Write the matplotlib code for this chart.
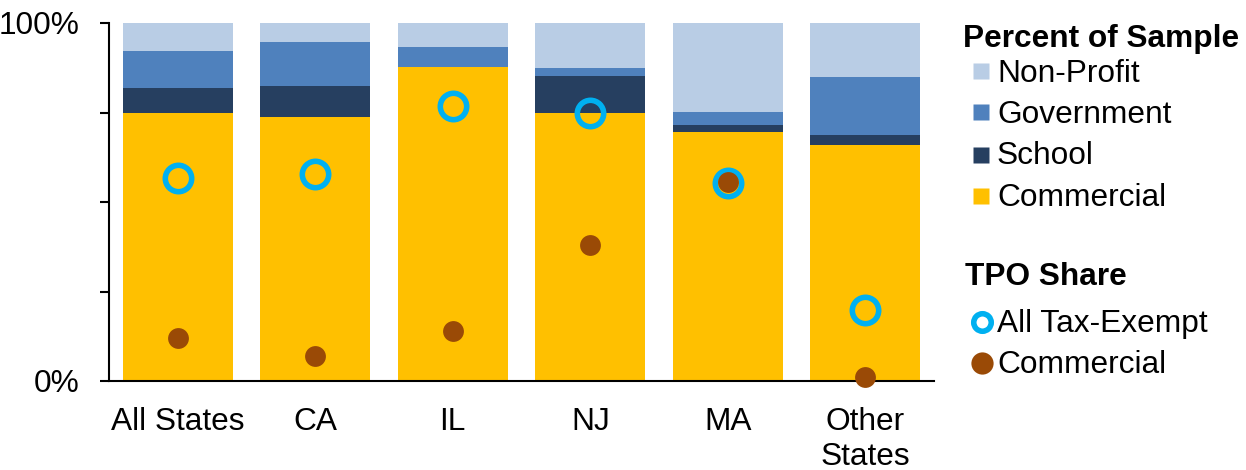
import matplotlib
matplotlib.use("Agg")
import matplotlib.pyplot as plt
import numpy as np

plt.rcParams['font.family'] = ['Liberation Sans', 'DejaVu Sans']

# Data (percent)
states = ["All States", "CA", "IL", "NJ", "MA", "Other\nStates"]
commercial = [74.9, 73.8, 87.8, 74.9, 69.5, 65.9]
school = [6.9, 8.7, 0.0, 10.4, 1.9, 2.9]
government = [10.3, 12.1, 5.4, 2.2, 3.8, 16.1]
non_profit = [7.9, 5.4, 6.8, 12.5, 24.8, 15.1]

tpo_all_tax_exempt = [56.8, 57.8, 76.8, 75.0, 55.4, 19.8]
tpo_commercial = [11.9, 6.9, 14.1, 38.1, 55.6, 1.2]

segment_names = ["Commercial", "School", "Government", "Non-Profit"]
segment_colors = ["#FFC000", "#263F60", "#4F81BD", "#B9CDE5"]
circle_color = "#00B0F0"
dot_color = "#9A4A06"

W, H = 1246, 470
fig = plt.figure(figsize=(W / 100, H / 100), dpi=100)
ax = fig.add_axes([109 / W, 1 - 381 / H, (934 - 109) / W, (381 - 23) / H])

x = np.arange(len(states))
bottom = np.zeros(len(states))
for vals, col in zip([commercial, school, government, non_profit], segment_colors):
    ax.bar(x, vals, width=0.8, bottom=bottom, color=col, linewidth=0, zorder=2)
    bottom += np.array(vals)

ax.plot(x, tpo_all_tax_exempt, linestyle='none', marker='o', markersize=19,
        markerfacecolor='none', markeredgecolor=circle_color, markeredgewidth=4,
        zorder=4, clip_on=False)
ax.plot(x, tpo_commercial, linestyle='none', marker='o', markersize=15,
        markerfacecolor=dot_color, markeredgecolor='none', zorder=5, clip_on=False)

ax.set_xlim(-0.5, 5.5)
ax.set_ylim(0, 100)
ax.set_yticks([0, 25, 50, 75, 100])
ax.set_yticklabels(["0%", "", "", "", "100%"])
ax.set_xticks(x)
ax.set_xticklabels(states)
ax.tick_params(axis='y', length=6.5, width=1.5, pad=15, labelsize=22.8, direction='out')
ax.tick_params(axis='x', length=0, pad=19, labelsize=22.8)
for s in ['top', 'right']:
    ax.spines[s].set_visible(False)
for s in ['left', 'bottom']:
    ax.spines[s].set_linewidth(1.5)
    ax.spines[s].set_zorder(3)

# Legend panel drawn in pixel coordinates
lg = fig.add_axes([0, 0, 1, 1], facecolor='none')
lg.set_xlim(0, W)
lg.set_ylim(H, 0)
lg.axis('off')

fs = 22.8
lg.text(963, 46.7, "Percent of Sample", fontsize=fs, fontweight='bold', va='baseline', ha='left')
legend_rows = [("Non-Profit", segment_colors[3], 71, 81.7),
               ("Government", segment_colors[2], 112, 123),
               ("School", segment_colors[1], 154.5, 164),
               ("Commercial", segment_colors[0], 196, 206)]
for label, col, yc, yb in legend_rows:
    lg.plot([980.5], [yc], marker='s', markersize=11, markerfacecolor=col,
            markeredgecolor='none', linestyle='none')
    lg.text(997, yb, label, fontsize=fs, va='baseline', ha='left')

lg.text(965, 285, "TPO Share", fontsize=fs, fontweight='bold', va='baseline', ha='left')
lg.plot([982], [322], marker='o', markersize=12.6, markerfacecolor='none',
        markeredgecolor=circle_color, markeredgewidth=4, linestyle='none')
lg.text(997, 331.7, "All Tax-Exempt", fontsize=fs, va='baseline', ha='left')
lg.plot([982], [362.7], marker='o', markersize=16, markerfacecolor=dot_color,
        markeredgecolor='none', linestyle='none')
lg.text(997, 372.7, "Commercial", fontsize=fs, va='baseline', ha='left')

fig.savefig("out.png", dpi=100)
